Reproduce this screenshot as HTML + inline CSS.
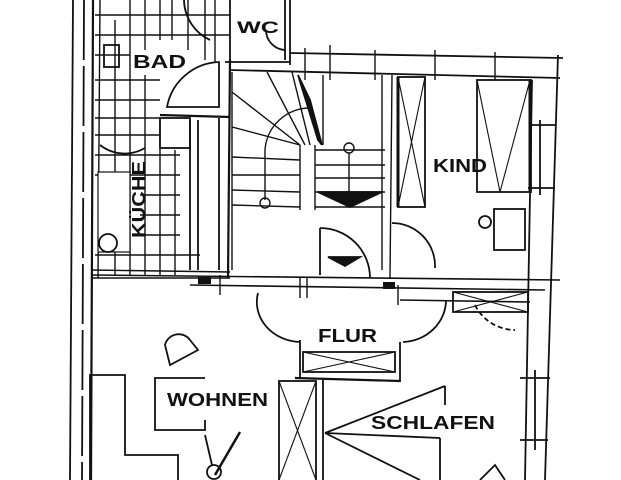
<!DOCTYPE html><html><head><meta charset="utf-8"><style>
html,body{margin:0;padding:0;background:#fff}
svg{display:block}
text{font-family:"Liberation Sans",sans-serif;font-weight:bold;fill:#111;stroke:none}
</style></head><body>
<svg width="621" height="480" viewBox="0 0 621 480" xmlns="http://www.w3.org/2000/svg" stroke="#111" fill="none" stroke-width="1.8">
<line x1="73" y1="0" x2="70" y2="480"/>
<line x1="84" y1="0" x2="82" y2="480" stroke-dasharray="60 6"/>
<line x1="93" y1="0" x2="91" y2="480" stroke-width="2.2"/>
<g stroke-width="1.4">
<line x1="100" y1="0" x2="98" y2="278"/>
<line x1="115" y1="20" x2="115" y2="275"/>
<line x1="130" y1="0" x2="130" y2="275"/>
<line x1="145" y1="0" x2="145" y2="50"/>
<line x1="145" y1="75" x2="145" y2="275"/>
<line x1="160" y1="0" x2="160" y2="40"/>
<line x1="160" y1="120" x2="160" y2="275"/>
<line x1="172" y1="0" x2="172" y2="40"/>
<line x1="175" y1="150" x2="175" y2="275"/>
<line x1="188" y1="0" x2="188" y2="50"/>
<line x1="205" y1="0" x2="205" y2="60"/>
<line x1="215" y1="0" x2="215" y2="100"/>
<line x1="95" y1="15" x2="230" y2="15"/>
<line x1="95" y1="35" x2="230" y2="35"/>
<line x1="95" y1="55" x2="130" y2="55"/>
<line x1="95" y1="80" x2="160" y2="80"/>
<line x1="95" y1="100" x2="160" y2="100"/>
<line x1="95" y1="118" x2="160" y2="118"/>
<line x1="95" y1="135" x2="180" y2="135"/>
<line x1="95" y1="155" x2="180" y2="155"/>
<line x1="95" y1="175" x2="180" y2="175"/>
<line x1="140" y1="195" x2="180" y2="195"/>
<line x1="140" y1="215" x2="180" y2="215"/>
<line x1="140" y1="235" x2="180" y2="235"/>
<line x1="95" y1="255" x2="200" y2="255"/>
<line x1="92" y1="270" x2="230" y2="272"/>
<line x1="92" y1="278" x2="230" y2="278"/>
</g>
<rect x="98" y="172" width="32" height="80" fill="#fff" stroke-width="1.2"/>
<circle cx="108" cy="243" r="9"/>
<rect x="104" y="45" width="15" height="22"/>
<path d="M167 107 A55 55 0 0 1 219 62 L219 107 Z" fill="#fff"/>
<line x1="160" y1="115" x2="230" y2="117" stroke-width="2.2"/>
<rect x="160" y="118" width="30" height="30" fill="#fff"/>
<line x1="190" y1="120" x2="190" y2="270"/>
<line x1="198" y1="120" x2="198" y2="270"/>
<line x1="219" y1="118" x2="219" y2="270"/>
<line x1="230" y1="60" x2="228" y2="278" stroke-width="2.2"/>
<path d="M145 148 A40 40 0 0 1 100 145"/>
<path d="M184 0 A45 45 0 0 0 210 40"/>
<line x1="230" y1="0" x2="230" y2="60"/>
<line x1="285" y1="0" x2="285" y2="60"/>
<line x1="290" y1="0" x2="290" y2="65"/>
<path d="M285 50 A20 20 0 0 1 266 30"/>
<line x1="225" y1="62" x2="290" y2="62"/>
<line x1="290" y1="53" x2="563" y2="58" stroke-width="1.8"/>
<line x1="230" y1="70" x2="560" y2="78" stroke-width="1.8"/>
<g stroke-width="1.4">
<line x1="305" y1="48" x2="305" y2="80"/><line x1="330" y1="45" x2="330" y2="80"/>
<line x1="375" y1="50" x2="375" y2="80"/><line x1="435" y1="50" x2="435" y2="80"/>
<line x1="495" y1="52" x2="495" y2="80"/>
</g>
<line x1="558" y1="55" x2="545" y2="480" stroke-width="1.8"/>
<line x1="532" y1="80" x2="525" y2="480" stroke-width="1.8"/>
<line x1="530" y1="125" x2="555" y2="125"/><line x1="528" y1="188" x2="555" y2="188"/>
<line x1="540" y1="120" x2="540" y2="195"/>
<line x1="520" y1="378" x2="550" y2="378"/><line x1="520" y1="440" x2="548" y2="440"/>
<line x1="535" y1="370" x2="535" y2="450"/>
<g stroke-width="1.4">
<line x1="232" y1="72" x2="232" y2="270"/>
<line x1="300" y1="145" x2="300" y2="210"/>
<line x1="315" y1="145" x2="315" y2="210"/>
<line x1="232" y1="92" x2="300" y2="145"/>
<line x1="232" y1="127" x2="300" y2="145"/>
<line x1="267" y1="72" x2="305" y2="145"/>
<line x1="292" y1="72" x2="310" y2="145"/>
<line x1="232" y1="157" x2="300" y2="160"/>
<line x1="232" y1="175" x2="300" y2="175"/>
<line x1="232" y1="190" x2="300" y2="192"/>
<line x1="232" y1="205" x2="300" y2="207"/>
<line x1="315" y1="150" x2="385" y2="150"/>
<line x1="315" y1="165" x2="385" y2="165"/>
<line x1="315" y1="178" x2="385" y2="178"/>
<line x1="315" y1="192" x2="385" y2="192"/>
<line x1="315" y1="207" x2="385" y2="207"/>
<line x1="323" y1="75" x2="323" y2="145"/>
<path d="M265 200 L265 150 A45 45 0 0 1 310 108"/>
<circle cx="265" cy="203" r="5"/>
<circle cx="349" cy="148" r="5"/>
<line x1="349" y1="153" x2="349" y2="192"/>
<line x1="382" y1="75" x2="382" y2="270"/>
<line x1="392" y1="75" x2="390" y2="278"/>
</g>
<path d="M298 75 L310 100 L322 145 L318 140 Z" fill="#111"/>
<path d="M318 192 L382 192 L350 207 Z" fill="#111"/>
<line x1="320" y1="228" x2="320" y2="275"/>
<path d="M320 228 A50 50 0 0 1 370 278"/>
<path d="M328 257 L360 257 L345 266 Z" fill="#111"/>
<path d="M392 223 A43 43 0 0 1 435 268"/>
<line x1="92" y1="275" x2="560" y2="280" stroke-width="1.6"/>
<line x1="190" y1="285" x2="545" y2="290" stroke-width="1.6"/>
<line x1="400" y1="300" x2="530" y2="302" stroke-width="1.6"/>
<rect x="198" y="277" width="13" height="7" fill="#111" stroke="none"/>
<rect x="383" y="282" width="12" height="7" fill="#111" stroke="none"/>
<g stroke-width="1.4"><line x1="220" y1="275" x2="220" y2="295"/><line x1="300" y1="277" x2="300" y2="298"/><line x1="307" y1="277" x2="307" y2="298"/><line x1="398" y1="285" x2="398" y2="305"/></g>
<rect x="453" y="292" width="75" height="20"/>
<line x1="453" y1="292" x2="528" y2="312" stroke-width="1.1"/><line x1="453" y1="312" x2="528" y2="292" stroke-width="1.1"/>
<path d="M475 305 A45 45 0 0 0 515 330" stroke-dasharray="5 3"/>
<rect x="398" y="77" width="27" height="130"/>
<line x1="398" y1="77" x2="425" y2="207" stroke-width="1.1"/><line x1="425" y1="77" x2="398" y2="207" stroke-width="1.1"/>
<line x1="398" y1="77" x2="398" y2="207" stroke-width="3"/>
<rect x="477" y="80" width="54" height="112"/>
<line x1="477" y1="80" x2="500" y2="192" stroke-width="1.1"/><line x1="530" y1="80" x2="500" y2="192" stroke-width="1.1"/>
<line x1="530" y1="80" x2="530" y2="192" stroke-width="3"/>
<rect x="494" y="209" width="31" height="41"/>
<circle cx="485" cy="222" r="6"/>
<path d="M258 293 A45 40 0 0 0 300 342"/>
<path d="M446 300 A45 42 0 0 1 403 342"/>
<rect x="303" y="352" width="92" height="20"/>
<line x1="303" y1="352" x2="395" y2="372" stroke-width="1.1"/><line x1="303" y1="372" x2="395" y2="352" stroke-width="1.1"/>
<line x1="300" y1="340" x2="300" y2="378"/><line x1="400" y1="342" x2="400" y2="382"/>
<line x1="295" y1="378" x2="400" y2="381" stroke-width="2.2"/>
<path d="M170 365 L165 345 A14 14 0 0 1 190 340 L198 350 Z"/>
<path d="M90 480 L90 375 L125 375 L125 455 L178 455 L178 480"/>
<path d="M205 378 L155 378 L155 430 L205 430 L205 420"/>
<path d="M205 435 L212 465"/>
<path d="M240 432 L215 475" stroke-width="2.5"/>
<circle cx="214" cy="472" r="7"/>
<rect x="279" y="381" width="37" height="100"/>
<line x1="279" y1="381" x2="316" y2="480" stroke-width="1.1"/><line x1="316" y1="381" x2="279" y2="480" stroke-width="1.1"/>
<line x1="323" y1="380" x2="323" y2="480" stroke-width="1.8"/>
<path d="M325 433 L445 386 M325 433 L440 438 M325 433 L420 480 M445 386 L445 405 M440 438 L440 480"/>
<path d="M480 480 L495 465 L505 480"/>
<text x="133" y="68" font-size="18" textLength="53" lengthAdjust="spacingAndGlyphs">BAD</text>
<text x="237" y="33" font-size="17" textLength="42" lengthAdjust="spacingAndGlyphs">WC</text>
<text x="433" y="172" font-size="18" textLength="54" lengthAdjust="spacingAndGlyphs">KIND</text>
<text x="318" y="342" font-size="18" textLength="59" lengthAdjust="spacingAndGlyphs">FLUR</text>
<text x="167" y="406" font-size="18" textLength="101" lengthAdjust="spacingAndGlyphs">WOHNEN</text>
<text x="371" y="429" font-size="18" textLength="124" lengthAdjust="spacingAndGlyphs">SCHLAFEN</text>
<text transform="translate(145,238) rotate(-90)" font-size="18" textLength="77" lengthAdjust="spacingAndGlyphs">KÜCHE</text>
</svg>
</body></html>
